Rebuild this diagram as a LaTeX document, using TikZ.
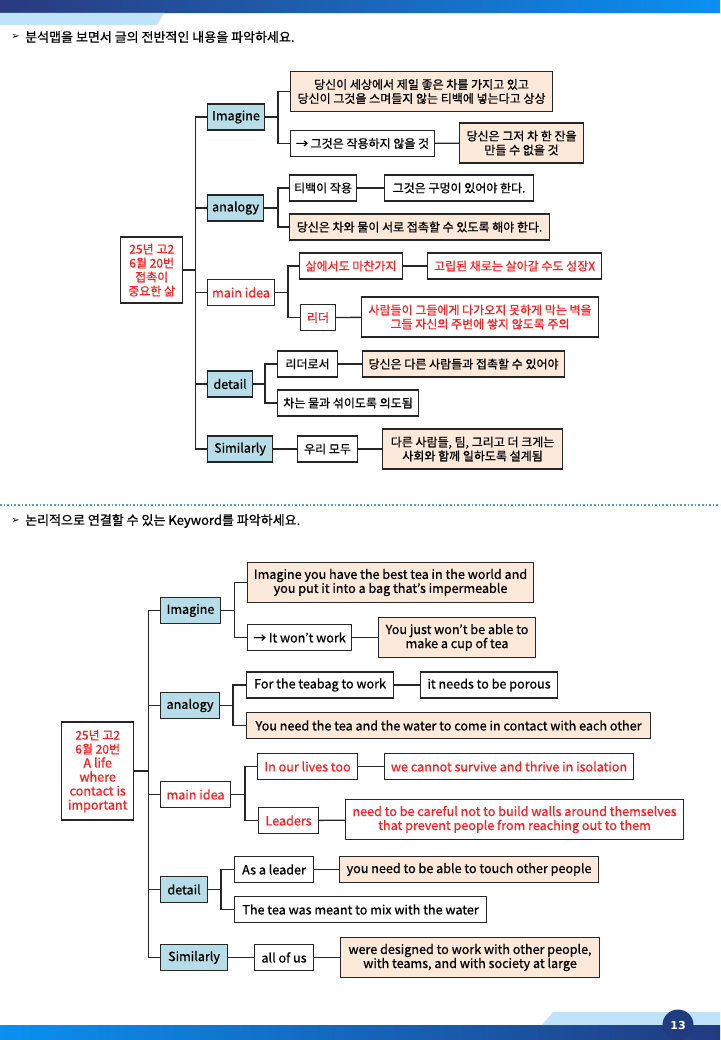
\documentclass[tikz,border=0pt]{standalone}
\usepackage{fontspec}
\setmainfont{Noto Sans CJK KR}[FakeBold=0.8]
\newfontfamily\symfont{DejaVu Sans}
\usepackage{tikz}
\usetikzlibrary{arrows.meta, positioning, calc}
\usepackage{xcolor}

\definecolor{blubox}{HTML}{B7DEE8}
\definecolor{pchbox}{HTML}{FDE9D9}
\definecolor{redtxt}{HTML}{FF1F1F}
\definecolor{edge}{HTML}{262626}
\definecolor{hdrdark}{HTML}{2B3A7E}
\definecolor{hdrbright}{HTML}{0A90F2}
\definecolor{tabblue}{HTML}{BEE3FA}
\definecolor{dotblue}{HTML}{5B9BD5}
\definecolor{navy}{HTML}{213B80}

\newcommand\korsize{\fontsize{12}{14}\selectfont}
\newcommand\engsize{\fontsize{12.6}{14}\selectfont}

\begin{document}
\begin{tikzpicture}[
    x=1pt, y=-1pt,
    box/.style={draw=edge, line width=1.1pt, anchor=west, minimum height=26pt,
                inner xsep=2pt, inner ysep=1pt, align=center, font=\korsize},
    blu/.style={box, fill=blubox},
    pch/.style={box, fill=pchbox},
    rd/.style={text=redtxt},
    en/.style={font=\engsize},
    two/.style={minimum height=40pt},
    root/.style={box, line width=1.4pt, text=redtxt},
    lnk/.style={draw=edge, line width=1.3pt},
    ttl/.style={anchor=west, font=\fontsize{13}{15}\selectfont, inner sep=0pt}
  ]
  \useasboundingbox (0,0) rectangle (720,1040);

  % page frame
  \shade[left color=hdrdark, right color=hdrbright] (0,0) rectangle (720,13);
  \fill[tabblue] (0,13) -- (164,13) -- (157,25) -- (0,25) -- cycle;
  \draw[tabblue!70, line width=0.6pt] (164,13.3) -- (720,13.3);
  \fill[tabblue] (553,1012) -- (720,1012) -- (720,1025) -- (542,1025) -- cycle;
  \shade[left color=hdrbright, right color=navy] (0,1025) rectangle (720,1040);
  \node[circle, fill=navy, minimum size=31pt, inner sep=0pt, text=white,
        font=\symfont\bfseries\fontsize{11}{11}\selectfont] (pgno) at (678,1025) {13};
  \draw[dotblue, line width=1.6pt, dotted] (0,505) -- (720,505);

  \node[ttl] (ttlA) at (25,37) {분석맵을 보면서 글의 전반적인 내용을 파악하세요.};
  \node[anchor=east, inner sep=0pt, font=\symfont\fontsize{10}{10}\selectfont] at ([xshift=-5pt]ttlA.west) {➢};
  \node[ttl] (ttlB) at (25,521) {논리적으로 연결할 수 있는 Keyword를 파악하세요.};
  \node[anchor=east, inner sep=0pt, font=\symfont\fontsize{10}{10}\selectfont] at ([xshift=-5pt]ttlB.west) {➢};

  % upper map
  \node[root, minimum width=62pt, minimum height=66pt] (rootA) at (120,270)
       {25년 고2\\6월 20번\\접촉이\\중요한 삶};
  \node[blu, en, minimum width=57pt] (tImag) at (207,117)   {Imagine};
  \node[blu, en, minimum width=56pt] (tAnal) at (207,208)   {analogy};
  \node[box, en, rd, minimum width=67pt] (tMain) at (207,292.5) {main idea};
  \node[blu, en, minimum width=45pt] (tDetl) at (207,384)   {detail};
  \node[blu, en, minimum width=65pt] (tSiml) at (207,449)   {Similarly};

  \node[pch, two, minimum width=262pt] (tI1) at (290,91.5)
       {당신이 세상에서 제일 좋은 차를 가지고 있고\\당신이 그것을 스며들지 않는 티백에 넣는다고 상상};
  \node[box, minimum width=144pt] (tI2) at (290,143.5) {→ 그것은 작용하지 않을 것};
  \node[pch, two, minimum width=124pt] (tI3) at (459,143) {당신은 그저 차 한 잔을\\만들 수 없을 것};
  \node[box, minimum width=67pt] (tA1) at (289,188) {티백이 작용};
  \node[box, minimum width=149pt] (tA2) at (384,188) {그것은 구멍이 있어야 한다.};
  \node[pch, minimum width=260pt] (tA3) at (289,227) {당신은 차와 물이 서로 접촉할 수 있도록 해야 한다.};
  \node[box, rd, minimum width=103pt] (tM1) at (299,266) {삶에서도 마찬가지};
  \node[box, rd, minimum width=174pt] (tM2) at (427,266) {고립된 채로는 살아갈 수도 성장X};
  \node[box, rd, minimum width=35pt] (tM3) at (300,317.5) {리더};
  \node[box, rd, two, minimum width=237pt] (tM4) at (361,317)
       {사람들이 그들에게 다가오지 못하게 막는 벽을\\그들 자신의 주변에 쌓지 않도록 주의};
  \node[box, minimum width=60pt] (tD1) at (277,364) {리더로서};
  \node[pch, minimum width=202pt] (tD2) at (362,364) {당신은 다른 사람들과 접촉할 수 있어야};
  \node[box, minimum width=141pt] (tD3) at (277,403) {차는 물과 섞이도록 의도됨};
  \node[box, minimum width=60pt] (tS1) at (297,449) {우리 모두};
  \node[pch, two, minimum width=180pt] (tS2) at (382,449)
       {다른 사람들, 팀, 그리고 더 크게는\\사회와 함께 일하도록 설계됨};

  \foreach \n in {tImag, tAnal, tMain, tDetl, tSiml}
    \draw[lnk] (rootA.east) -- ++(12,0) |- (\n.west);
  \draw[lnk] (tImag.east) -- ++(13,0) |- (tI1.west);
  \draw[lnk] (tImag.east) -- ++(13,0) |- (tI2.west);
  \draw[lnk] (tI2) -- (tI3);
  \draw[lnk] (tAnal.east) -- ++(14,0) |- (tA1.west);
  \draw[lnk] (tAnal.east) -- ++(14,0) |- (tA3.west);
  \draw[lnk] (tA1) -- (tA2);
  \draw[lnk] (tMain.east) -- ++(13,0) |- (tM1.west);
  \draw[lnk] (tMain.east) -- ++(13,0) |- (tM3.west);
  \draw[lnk] (tM1) -- (tM2);
  \draw[lnk] (tM3) -- (tM4);
  \draw[lnk] (tDetl.east) -- ++(12,0) |- (tD1.west);
  \draw[lnk] (tDetl.east) -- ++(12,0) |- (tD3.west);
  \draw[lnk] (tD1) -- (tD2);
  \draw[lnk] (tSiml) -- (tS1);
  \draw[lnk] (tS1) -- (tS2);

  % lower map
  \node[root, en, minimum width=72pt, minimum height=98pt] (rootB) at (61,771)
       {{\korsize 25년 고2}\\{\korsize 6월 20번}\\A life\\where\\contact is\\important};
  \node[blu, en, minimum width=60pt] (bImag) at (160,610.5) {Imagine};
  \node[blu, en, minimum width=59pt] (bAnal) at (160,705.5) {analogy};
  \node[box, en, rd, minimum width=70pt] (bMain) at (160,794.5) {main idea};
  \node[blu, en, minimum width=47pt] (bDetl) at (160,889.5) {detail};
  \node[blu, en, minimum width=67pt] (bSiml) at (160,957.5) {Similarly};

  \node[pch, en, two, minimum width=286pt] (bI1) at (247,582.5)
       {Imagine you have the best tea in the world and\\you put it into a bag that's impermeable};
  \node[box, en, minimum width=104pt] (bI2) at (247,637.5) {→ It won't work};
  \node[pch, en, two, minimum width=157pt] (bI3) at (378,637.5) {You just won't be able to\\make a cup of tea};
  \node[box, en, minimum width=147pt] (bA1) at (246,685) {For the teabag to work};
  \node[box, en, minimum width=137pt] (bA2) at (420,685) {it needs to be porous};
  \node[pch, en, minimum width=404pt] (bA3) at (246,725.5)
       {You need the tea and the water to come in contact with each other};
  \node[box, en, rd, minimum width=100pt] (bM1) at (257,766.5) {In our lives too};
  \node[box, en, rd, minimum width=249pt] (bM2) at (384,766.5) {we cannot survive and thrive in isolation};
  \node[box, en, rd, minimum width=60pt] (bM3) at (258,820.5) {Leaders};
  \node[box, en, rd, two, minimum width=338pt] (bM4) at (345,819.5)
       {need to be careful not to build walls around themselves\\that prevent people from reaching out to them};
  \node[box, en, minimum width=79pt] (bD1) at (234,869.5) {As a leader};
  \node[pch, en, minimum width=259pt] (bD2) at (339,869.5) {you need to be able to touch other people};
  \node[box, en, minimum width=252pt] (bD3) at (234,909.5) {The tea was meant to mix with the water};
  \node[box, en, minimum width=59pt] (bS1) at (254,957.5) {all of us};
  \node[pch, en, two, minimum width=259pt] (bS2) at (340,957.5)
       {were designed to work with other people,\\with teams, and with society at large};

  \foreach \n in {bImag, bAnal, bMain, bDetl, bSiml}
    \draw[lnk] (rootB.east) -- ++(14,0) |- (\n.west);
  \draw[lnk] (bImag.east) -- ++(13.5,0) |- (bI1.west);
  \draw[lnk] (bImag.east) -- ++(13.5,0) |- (bI2.west);
  \draw[lnk] (bI2) -- (bI3);
  \draw[lnk] (bAnal.east) -- ++(13,0) |- (bA1.west);
  \draw[lnk] (bAnal.east) -- ++(13,0) |- (bA3.west);
  \draw[lnk] (bA1) -- (bA2);
  \draw[lnk] (bMain.east) -- ++(14,0) |- (bM1.west);
  \draw[lnk] (bMain.east) -- ++(14,0) |- (bM3.west);
  \draw[lnk] (bM1) -- (bM2);
  \draw[lnk] (bM3) -- (bM4);
  \draw[lnk] (bDetl.east) -- ++(13,0) |- (bD1.west);
  \draw[lnk] (bDetl.east) -- ++(13,0) |- (bD3.west);
  \draw[lnk] (bD1) -- (bD2);
  \draw[lnk] (bSiml) -- (bS1);
  \draw[lnk] (bS1) -- (bS2);
\end{tikzpicture}
\end{document}
